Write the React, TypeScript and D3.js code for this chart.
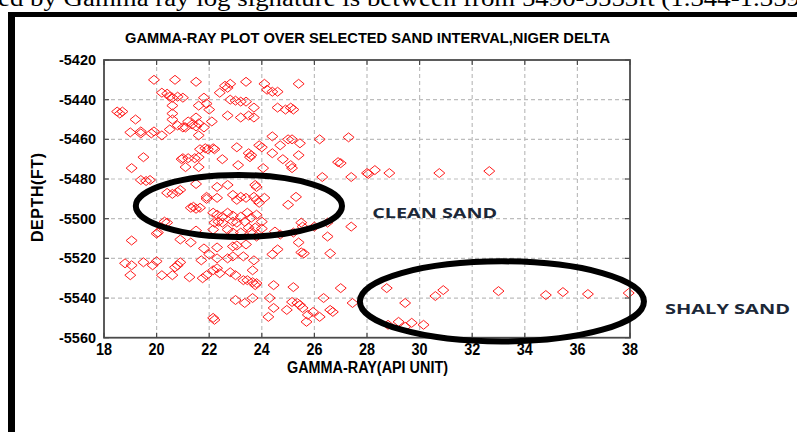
import React, { useRef, useEffect } from "react";
import * as d3 from "d3";

// Gamma ray (API) vs depth (ft)
const gammaRay = [
  19.9, 20.7, 21.5, 22.6, 22.7, 22.8, 23.4, 24.1, 24.2, 24.4, 24.6, 25.4,
  20.2, 20.4, 20.5, 20.6, 20.8, 21.0, 21.8, 22.4, 22.8, 23.0, 23.2, 23.4,
  23.7, 24.6, 24.9, 25.1, 25.2, 18.5, 18.6, 18.7, 19.2, 20.6, 21.6, 21.9,
  22.0, 20.6, 20.6, 21.5, 22.1, 22.7, 23.2, 23.5, 23.7, 19.0, 19.4, 19.9,
  20.2, 20.5, 20.8, 21.0, 21.2, 21.35, 21.5, 21.6, 21.1, 21.6, 21.8, 24.4,
  24.7, 25.0, 25.15, 25.45, 26.2, 27.3, 23.9, 24.0, 23.05, 24.4, 24.8, 25.1,
  25.4, 23.5, 23.6, 23.55, 21.65, 21.85, 21.95, 22.15, 22.2, 21.6, 21.45, 21.2,
  21.0, 20.95, 22.5, 21.1, 21.6, 23.1, 24.05, 25.15, 19.5, 19.05, 26.9, 27.0,
  26.3, 27.4, 28.0, 19.4, 19.6, 19.75, 20.4, 20.6, 20.8, 20.9, 21.5, 21.9,
  22.3, 22.7, 22.9, 23.2, 23.75, 23.8, 24.1, 25.3, 19.05, 20.0, 21.9, 22.3,
  23.05, 23.4, 23.7, 23.8, 23.9, 25.0, 21.3, 21.5, 21.65, 22.15, 22.3, 22.5,
  22.7, 22.9, 22.35, 22.2, 22.5, 22.9, 23.05, 23.2, 23.45, 23.6, 23.8, 24.0,
  23.35, 23.75, 24.0, 20.4, 20.05, 20.9, 21.3, 21.5, 22.15, 22.7, 22.9, 23.2,
  23.5, 23.6, 23.8, 24.5, 24.7, 25.5, 25.55, 25.2, 25.4, 26.0, 26.5, 26.5,
  27.4, 21.8, 22.3, 22.9, 23.05, 23.4, 22.9, 22.7, 22.3, 21.7, 22.0, 23.7,
  23.3, 24.4, 24.6, 25.5, 25.6, 26.6, 18.8, 19.05, 19.0, 19.5, 19.85, 20.0,
  20.2, 20.6, 20.7, 20.8, 20.9, 21.25, 21.75, 21.9, 22.15, 22.3, 22.4, 22.8,
  23.0, 23.45, 23.65, 23.3, 23.65, 23.75, 23.8, 24.45, 25.2, 27.0, 23.0, 23.35,
  23.65, 24.3, 24.45, 24.25, 24.95, 25.15, 25.35, 25.45, 25.55, 25.75, 25.95, 25.7,
  26.2, 26.35, 26.6, 26.7, 27.45, 22.15, 22.2, 28.05, 28.3, 28.85, 30.75, 32.65,
  28.75, 29.45, 30.6, 30.9, 33.0, 34.8, 35.45, 36.4, 37.95, 28.8, 29.2, 29.45,
  29.7, 30.15, 19.4, 19.8, 21.4, 20.3,
];

const depth = [
  -5430, -5430, -5431, -5433, -5434, -5432, -5431, -5432, -5435, -5436, -5436, -5432,
  -5436.5, -5437, -5438.5, -5439, -5438.5, -5439, -5439, -5436.5, -5440, -5440.5, -5441, -5441,
  -5444, -5444, -5445, -5444, -5445, -5446, -5447, -5446, -5450, -5443, -5443, -5442,
  -5445, -5447, -5450, -5449, -5451, -5448, -5449, -5448, -5449, -5456.5, -5456, -5456,
  -5458, -5455, -5453, -5454, -5451, -5452.5, -5453.5, -5452, -5454, -5458, -5454, -5458.5,
  -5463, -5460, -5460, -5462, -5460, -5459, -5463, -5464, -5464, -5467, -5470, -5473,
  -5468, -5467, -5468, -5469, -5465, -5464.5, -5465, -5464.5, -5465, -5469, -5469.5, -5469.5,
  -5469.5, -5470, -5470, -5474, -5474, -5473, -5474.5, -5474.5, -5469, -5474.5, -5471.5, -5472,
  -5479, -5479, -5477, -5480.5, -5481, -5480.5, -5487, -5487.5, -5486.5, -5485.5, -5482.5, -5489,
  -5484, -5483, -5488, -5489, -5483, -5484, -5489.5, -5489, -5511, -5507.5, -5490, -5489.5,
  -5490.5, -5489.5, -5489, -5490.5, -5492, -5493, -5494.5, -5495, -5494.5, -5497, -5498, -5499,
  -5497, -5498.5, -5501.5, -5502, -5502, -5501.5, -5502, -5499, -5497, -5499.5, -5498, -5501.5,
  -5501.5, -5504.5, -5505, -5502, -5507, -5510.5, -5512, -5506, -5505.5, -5505.5, -5507, -5507,
  -5504.5, -5506.5, -5509, -5506.5, -5508, -5502, -5504, -5507, -5512, -5504, -5509, -5502,
  -5504, -5515, -5514.5, -5514, -5513.5, -5513, -5519, -5520, -5520, -5521, -5518, -5521,
  -5519, -5518, -5515.5, -5517, -5517.5, -5517.5, -5522.5, -5523.5, -5528.5, -5522, -5523.5, -5521.5,
  -5528.5, -5528.5, -5524.5, -5523.5, -5522, -5529.5, -5530, -5528.5, -5526, -5525, -5527.5, -5527,
  -5528.5, -5531, -5526, -5531, -5532, -5533.5, -5532.5, -5533.5, -5534.5, -5535, -5541, -5542.5,
  -5540, -5540, -5545, -5549.5, -5546, -5542, -5542.5, -5543.5, -5545, -5548.5, -5547, -5552,
  -5549.5, -5540, -5546, -5547, -5542.5, -5550, -5551, -5477.5, -5475.5, -5477, -5477, -5476,
  -5535, -5542.5, -5539, -5536, -5536.5, -5538.5, -5537, -5538, -5537.5, -5553.5, -5552, -5554.5,
  -5552.5, -5553.5, -5457, -5457, -5494, -5501.5,
];

const xTicks = [18, 20, 22, 24, 26, 28, 30, 32, 34, 36, 38];
const yTicks = [-5420, -5440, -5460, -5480, -5500, -5520, -5540, -5560];

// hand-drawn ellipses: centre, radii in data units
const zoneNames = ["CLEAN SAND", "SHALY SAND"];
const zoneCx = [23.13, 33.13];
const zoneCy = [-5493.6, -5541.7];
const zoneRx = [3.92, 5.4];
const zoneRy = [15.6, 20.2];
const labelX = [28.2, 39.33];
const labelY = [-5499.5, -5548.3];

const chartTitle = "GAMMA-RAY PLOT OVER SELECTED SAND INTERVAL,NIGER DELTA";
const xLabel = "GAMMA-RAY(API UNIT)";
const yLabel = "DEPTH(FT)";
const pageText =
  "ed by Gamma ray log signature is between from 5490-5553ft (1.344-1.359";

const GammaPlot: React.FC = () => {
  const svgRef = useRef<SVGSVGElement | null>(null);
  const width = 797;
  const height = 432;

  useEffect(() => {
    if (!svgRef.current) return;
    const svg = d3.select(svgRef.current);
    svg.selectAll("*").remove();

    const left = 104, right = 630, top = 60, bottom = 337.7;
    const x = d3.scaleLinear().domain([18, 38]).range([left, right]);
    const y = d3.scaleLinear().domain([-5420, -5560]).range([top, bottom]);

    svg.append("rect").attr("width", width).attr("height", height).attr("fill", "white");

    // text of the page above, cut off at the top like in the scan
    svg
      .append("text")
      .attr("x", -2)
      .attr("y", 6)
      .attr("font-family", "'Liberation Serif', 'Times New Roman', serif")
      .attr("font-size", 24)
      .attr("textLength", 802)
      .attr("lengthAdjust", "spacingAndGlyphs")
      .attr("fill", "black")
      .text(pageText);

    // figure frame
    svg.append("rect").attr("x", 8).attr("y", 12).attr("width", 800).attr("height", 5).attr("fill", "black");
    svg.append("rect").attr("x", 8).attr("y", 12).attr("width", 7).attr("height", 430).attr("fill", "black");

    const narrow = "'Liberation Sans Narrow', 'Arial Narrow', 'Liberation Sans', Arial, sans-serif";

    // grid
    svg
      .append("g")
      .selectAll("line")
      .data(xTicks.slice(1, -1))
      .enter()
      .append("line")
      .attr("x1", (d) => x(d))
      .attr("x2", (d) => x(d))
      .attr("y1", top)
      .attr("y2", bottom)
      .attr("stroke", "#bdbdbd")
      .attr("stroke-width", 1.2)
      .attr("stroke-dasharray", "4,3");
    svg
      .append("g")
      .selectAll("line")
      .data(yTicks.slice(1, -1))
      .enter()
      .append("line")
      .attr("x1", left)
      .attr("x2", right)
      .attr("y1", (d) => y(d))
      .attr("y2", (d) => y(d))
      .attr("stroke", "#bdbdbd")
      .attr("stroke-width", 1.2)
      .attr("stroke-dasharray", "4,3");

    // points
    const diamond = "M0,-4.5L5.5,0L0,4.5L-5.5,0Z";
    svg
      .append("g")
      .selectAll("path")
      .data(gammaRay)
      .enter()
      .append("path")
      .attr("d", diamond)
      .attr("transform", (d, i) => `translate(${x(d)},${y(depth[i])})`)
      .attr("fill", "none")
      .attr("stroke", "#ff1a1a")
      .attr("stroke-width", 1);

    // axes box + inner ticks
    svg
      .append("rect")
      .attr("x", left)
      .attr("y", top)
      .attr("width", right - left)
      .attr("height", bottom - top)
      .attr("fill", "none")
      .attr("stroke", "#4a4a4a")
      .attr("stroke-width", 1.8);

    const tk = svg.append("g").attr("stroke", "#4a4a4a").attr("stroke-width", 1.2);
    xTicks.forEach((t) => {
      tk.append("line").attr("x1", x(t)).attr("x2", x(t)).attr("y1", bottom).attr("y2", bottom - 5);
      tk.append("line").attr("x1", x(t)).attr("x2", x(t)).attr("y1", top).attr("y2", top + 5);
    });
    yTicks.forEach((t) => {
      tk.append("line").attr("x1", left).attr("x2", left + 5).attr("y1", y(t)).attr("y2", y(t));
      tk.append("line").attr("x1", right).attr("x2", right - 5).attr("y1", y(t)).attr("y2", y(t));
    });

    // tick labels
    svg
      .append("g")
      .selectAll("text")
      .data(xTicks)
      .enter()
      .append("text")
      .attr("x", (d) => x(d))
      .attr("y", 355)
      .attr("text-anchor", "middle")
      .attr("font-family", narrow)
      .attr("font-weight", "bold")
      .attr("font-size", 16)
      .attr("textLength", 16)
      .attr("lengthAdjust", "spacingAndGlyphs")
      .text((d) => d);

    svg
      .append("g")
      .selectAll("text")
      .data(yTicks)
      .enter()
      .append("text")
      .attr("x", 96)
      .attr("y", (d) => y(d) + 5)
      .attr("text-anchor", "end")
      .attr("font-family", narrow)
      .attr("font-weight", "bold")
      .attr("font-size", 14)
      .attr("textLength", 37)
      .attr("lengthAdjust", "spacingAndGlyphs")
      .text((d) => d);

    // titles
    svg
      .append("text")
      .attr("x", 125)
      .attr("y", 43)
      .attr("font-family", narrow)
      .attr("font-weight", "bold")
      .attr("font-size", 15)
      .attr("textLength", 485)
      .attr("lengthAdjust", "spacingAndGlyphs")
      .text(chartTitle);

    svg
      .append("text")
      .attr("x", 287)
      .attr("y", 373)
      .attr("font-family", narrow)
      .attr("font-weight", "bold")
      .attr("font-size", 16)
      .attr("textLength", 161)
      .attr("lengthAdjust", "spacingAndGlyphs")
      .text(xLabel);

    svg
      .append("text")
      .attr("transform", "translate(43,242) rotate(-90)")
      .attr("font-family", "'Liberation Sans', Arial, sans-serif")
      .attr("font-weight", "bold")
      .attr("font-size", 16)
      .attr("textLength", 89)
      .attr("lengthAdjust", "spacing")
      .text(yLabel);

    // ellipses + labels
    svg
      .append("g")
      .selectAll("ellipse")
      .data(zoneNames)
      .enter()
      .append("ellipse")
      .attr("cx", (_, i) => x(zoneCx[i]))
      .attr("cy", (_, i) => y(zoneCy[i]))
      .attr("rx", (_, i) => x(zoneCx[i] + zoneRx[i]) - x(zoneCx[i]))
      .attr("ry", (_, i) => y(zoneCy[i] - zoneRy[i]) - y(zoneCy[i]))
      .attr("fill", "none")
      .attr("stroke", "black")
      .attr("stroke-width", 6);

    svg
      .append("g")
      .selectAll("text")
      .data(zoneNames)
      .enter()
      .append("text")
      .attr("x", (_, i) => x(labelX[i]))
      .attr("y", (_, i) => y(labelY[i]))
      .attr("font-family", "'Open Sans', 'Liberation Sans', sans-serif")
      .attr("font-weight", "bold")
      .attr("font-size", 15)
      .attr("textLength", 125)
      .attr("lengthAdjust", "spacingAndGlyphs")
      .attr("fill", "#1c2838")
      .text((d) => d);
  }, []);

  return (
    <svg
      ref={svgRef}
      width={width}
      height={height}
      style={{ position: "absolute", left: 0, top: 0, display: "block" }}
    ></svg>
  );
};

export default function App() {
  return <GammaPlot />;
}
